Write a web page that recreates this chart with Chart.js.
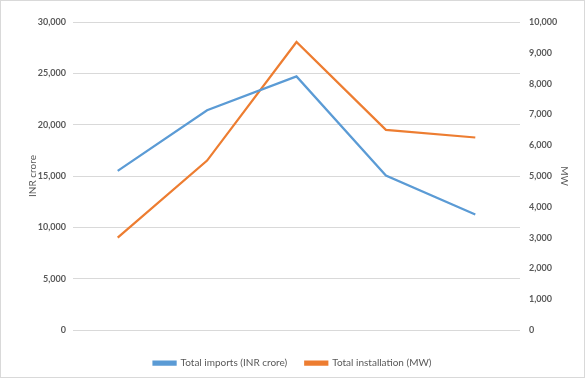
<!DOCTYPE html>
<html>
<head>
<meta charset="utf-8">
<script src="https://cdn.jsdelivr.net/npm/chart.js@4/dist/chart.umd.min.js"></script>
<style>
  html, body { margin: 0; padding: 0; background: #fff; }
  #wrap { width: 585px; height: 378px; }
</style>
</head>
<body>
<div id="wrap"><canvas id="chart" width="585" height="378"></canvas></div>
<script>
// categories and series
const years = ['2015–16', '2016–17', '2017–18', '2018–19', '2019–20 (Jan)'];
const importsInr = [15500, 21400, 24700, 15050, 11250];   // left axis, INR crore
const installMw = [3000, 5500, 9350, 6500, 6250];         // right axis, MW

const FONT = 'Lato, "Liberation Sans", sans-serif';
const GREY = '#595959';

// thin grey frame round the whole chart area
const framePlugin = {
    id: 'frame',
    afterDraw(chart) {
        const c = chart.ctx;
        c.save();
        c.strokeStyle = '#d9d9d9';
        c.lineWidth = 1;
        c.strokeRect(0.5, 0.5, chart.width - 1, chart.height - 1);
        c.restore();
    }
};

new Chart(document.getElementById('chart'), {
    type: 'line',
    data: {
        labels: years,
        datasets: [
            {
                label: 'Total imports (INR crore)',
                data: importsInr,
                yAxisID: 'y',
                borderColor: '#5B9BD5',
                backgroundColor: '#5B9BD5',
                borderWidth: 2.25,
                pointRadius: 0,
                tension: 0
            },
            {
                label: 'Total installation (MW)',
                data: installMw,
                yAxisID: 'y1',
                borderColor: '#ED7D31',
                backgroundColor: '#ED7D31',
                borderWidth: 2.25,
                pointRadius: 0,
                tension: 0
            }
        ]
    },
    options: {
        responsive: false,
        animation: false,
        layout: { padding: { top: 22, bottom: 0, left: 0, right: 0 } },
        scales: {
            x: {
                offset: true,
                grid: { display: false },
                border: { display: false },
                ticks: {
                    color: GREY,
                    padding: 9,
                    maxRotation: 0,
                    font: { family: FONT, size: 9, weight: 'bold' }
                },
                afterFit: s => { s.height = 10; }
            },
            y: {
                position: 'left',
                min: 0,
                max: 30000,
                grid: { color: '#d9d9d9', lineWidth: 1, drawTicks: false },
                border: { display: false },
                ticks: {
                    stepSize: 5000,
                    color: GREY,
                    padding: 7,
                    font: { family: FONT, size: 9, weight: 'bold' },
                    callback: v => v.toLocaleString('en-US')
                },
                title: {
                    display: true,
                    text: 'INR crore',
                    color: GREY,
                    padding: { top: 27, bottom: 0 },
                    font: { family: FONT, size: 10 }
                },
                afterFit: s => { s.width = 73; }
            },
            y1: {
                position: 'right',
                min: 0,
                max: 10000,
                grid: { display: false, drawTicks: false },
                border: { display: false },
                ticks: {
                    stepSize: 1000,
                    color: GREY,
                    padding: 9,
                    font: { family: FONT, size: 9, weight: 'bold' },
                    callback: v => v.toLocaleString('en-US')
                },
                title: {
                    display: true,
                    text: 'MW',
                    color: GREY,
                    padding: { top: 15, bottom: 0 },
                    font: { family: FONT, size: 10 }
                },
                afterFit: s => { s.width = 65; }
            }
        },
        plugins: {
            legend: {
                position: 'bottom',
                labels: {
                    boxWidth: 22,
                    boxHeight: 3,
                    padding: 18,
                    color: GREY,
                    font: { family: FONT, size: 10 }
                }
            },
            tooltip: { enabled: false }
        }
    },
    plugins: [framePlugin]
});
</script>
</body>
</html>
